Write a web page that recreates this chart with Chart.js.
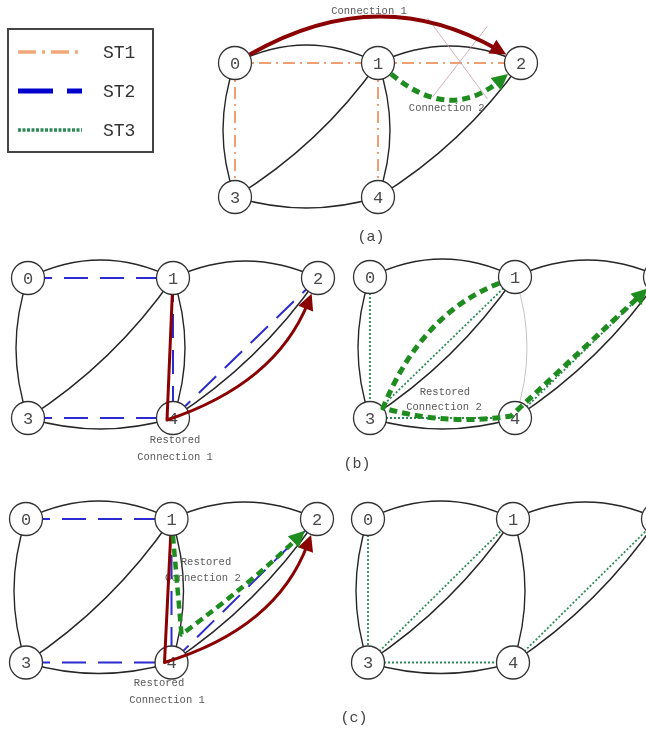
<!DOCTYPE html>
<html>
<head>
<meta charset="utf-8">
<title>Spanning tree restoration</title>
<script src="https://cdn.jsdelivr.net/npm/chart.js@4.4.1/dist/chart.umd.min.js"></script>
<style>
  html, body { margin: 0; padding: 0; background: #fff; overflow: hidden; width: 646px; height: 729px; }
  canvas { position: absolute; }
  .cap { position: absolute; font: 15px "Liberation Mono", monospace; color: #444; transform: translate(-50%, -50%); white-space: nowrap; }
</style>
</head>
<body>
<canvas id="ga"></canvas>
<canvas id="gbl"></canvas>
<canvas id="gbr"></canvas>
<canvas id="gcl"></canvas>
<canvas id="gcr"></canvas>
<div class="cap" style="left:371px;top:237px">(a)</div>
<div class="cap" style="left:357px;top:464px">(b)</div>
<div class="cap" style="left:354px;top:718px">(c)</div>
<script>
// ---- data ----
const nodeNames = ["0", "1", "2", "3", "4"];
const nodeCol = [0, 1, 2, 0, 1];
const nodeRow = [0, 0, 0, 1, 1];
const links = [[0, 1], [1, 2], [0, 3], [1, 3], [3, 4], [1, 4], [4, 2]];
const treeNames = ["ST1", "ST2", "ST3"];
const st1Links = [[0, 1], [1, 2], [0, 3], [1, 4]];
const st2Links = [[0, 1], [3, 4], [1, 4], [4, 2]];
const st3Links = [[0, 3], [3, 1], [3, 4], [4, 2]];
const connection1 = [0, 2];
const connection2 = [1, 2];
const restored1 = [1, 4, 2];
const restored2b = [1, 3, 4, 2];
const restored2c = [1, 4, 2];
const failedLinkA = [1, 2];
const failedLinkB = [1, 4];

// ---- styles ----
const RED = "#8b0000";
const GREEN = "#1e8c1e";
const R = 17;
const linkSag = [18, 17, -12, 10, -11, 12, -10];
const treeStyle = {
  ST1: { color: "#f0a070", width: 2, dash: [12, 5, 2, 5] },
  ST2: { color: "#2b2bd0", width: 2, dash: [24, 12] },
  ST3: { color: "#2e8b57", width: 1.8, dash: [2, 2] }
};
const legendStyle = [
  { color: "#f0a878", width: 3.5, dash: [18, 6, 3, 6] },
  { color: "#0000cd", width: 5, dash: [35, 14] },
  { color: "#2e8b57", width: 3.5, dash: [3, 1.5] }
];

// via: pixel nudges for the intermediate nodes a path passes through
const graphs = [
  {
    id: "ga", box: { x: 0, y: 0, w: 646, h: 232 }, origin: { x: 235, y: 63 }, unit: { x: 143, y: 134 },
    tree: "ST1", treeLinks: st1Links, cut: failedLinkA, legend: true,
    paths: [
      { nodes: connection1, sags: [41], color: RED, width: 4 },
      { nodes: connection2, sags: [-30], color: GREEN, width: 5, dash: [8, 5] }
    ],
    notes: [["Connection 1", 0.937, -0.388], ["Connection 2", 1.48, 0.336]]
  },
  {
    id: "gbl", box: { x: 0, y: 236, w: 342, h: 230 }, origin: { x: 28, y: 278 }, unit: { x: 145, y: 140 },
    tree: "ST2", treeLinks: st2Links,
    paths: [{ nodes: restored1, sags: [0, -24], color: RED, width: 3, via: [[-6, 2]] }],
    notes: [["Restored", 1.014, 1.157], ["Connection 1", 1.014, 1.279]]
  },
  {
    id: "gbr", box: { x: 342, y: 236, w: 340, h: 230 }, origin: { x: 370, y: 277 }, unit: { x: 145, y: 141 },
    tree: "ST3", treeLinks: st3Links, faded: failedLinkB,
    paths: [{ nodes: restored2b, sags: [-20, -7, 0], color: GREEN, width: 5, dash: [8, 5], via: [[13, -10], [-4, -2]] }],
    notes: [["Restored", 0.517, 0.816], ["Connection 2", 0.51, 0.925]]
  },
  {
    id: "gcl", box: { x: 0, y: 476, w: 342, h: 253 }, origin: { x: 26, y: 519 }, unit: { x: 145.5, y: 143.5 },
    tree: "ST2", treeLinks: st2Links,
    paths: [
      { nodes: restored1, sags: [0, -26], color: RED, width: 3, via: [[-7, 0]] },
      { nodes: restored2c, sags: [0, -3], color: GREEN, width: 4.5, dash: [8, 5], via: [[10, -28]] }
    ],
    notes: [["Restored", 1.237, 0.300], ["Connection 2", 1.216, 0.411], ["Restored", 0.914, 1.143], ["Connection 1", 0.969, 1.261]]
  },
  {
    id: "gcr", box: { x: 342, y: 476, w: 340, h: 253 }, origin: { x: 368, y: 519 }, unit: { x: 145, y: 143.5 },
    tree: "ST3", treeLinks: st3Links, paths: [], notes: []
  }
];

// ---- helpers ----
function ctrlPoint(a, b, sag) {
  const dx = b[0] - a[0], dy = b[1] - a[1];
  const L = Math.hypot(dx, dy) || 1;
  return [(a[0] + b[0]) / 2 + dy / L * 2 * sag, (a[1] + b[1]) / 2 - dx / L * 2 * sag];
}

function toward(a, b, d) {
  const dx = b[0] - a[0], dy = b[1] - a[1];
  const L = Math.hypot(dx, dy) || 1;
  return [a[0] + dx / L * d, a[1] + dy / L * d];
}

function sameLink(l, m) {
  return m && ((l[0] === m[0] && l[1] === m[1]) || (l[0] === m[1] && l[1] === m[0]));
}

function arrowHead(ctx, tip, from, color) {
  const dx = tip[0] - from[0], dy = tip[1] - from[1];
  const L = Math.hypot(dx, dy) || 1;
  const ux = dx / L, uy = dy / L, len = 16, half = 8;
  const bx = tip[0] - ux * len, by = tip[1] - uy * len;
  ctx.fillStyle = color;
  ctx.beginPath();
  ctx.moveTo(tip[0], tip[1]);
  ctx.lineTo(bx - uy * half, by + ux * half);
  ctx.lineTo(bx + uy * half, by - ux * half);
  ctx.closePath();
  ctx.fill();
}

function drawLegend(ctx) {
  ctx.save();
  ctx.strokeStyle = "#444";
  ctx.lineWidth = 2;
  ctx.strokeRect(8, 29, 145, 123);
  ctx.font = "18px 'Liberation Mono', monospace";
  ctx.textBaseline = "middle";
  ctx.fillStyle = "#333";
  const rows = [52, 91, 130];
  treeNames.forEach((name, i) => {
    const s = legendStyle[i];
    ctx.strokeStyle = s.color;
    ctx.lineWidth = s.width;
    ctx.setLineDash(s.dash);
    ctx.beginPath();
    ctx.moveTo(18, rows[i]);
    ctx.lineTo(82, rows[i]);
    ctx.stroke();
    ctx.setLineDash([]);
    ctx.fillText(name, 103, rows[i] + 1);
  });
  ctx.restore();
}

function graphPlugin(g) {
  const at = (chart, n, shift) => {
    const s = shift || [0, 0];
    return [chart.scales.x.getPixelForValue(nodeCol[n]) + s[0], chart.scales.y.getPixelForValue(nodeRow[n]) + s[1]];
  };

  function drawPath(chart, p) {
    const ctx = chart.ctx;
    const last = p.nodes.length - 1;
    const pts = p.nodes.map((n, i) => at(chart, n, i > 0 && i < last && p.via ? p.via[i - 1] : null));
    const ctrls = [];
    for (let i = 0; i < last; i++) ctrls.push(ctrlPoint(pts[i], pts[i + 1], p.sags[i]));
    const start = toward(pts[0], ctrls[0], R);
    const cl = ctrls[last - 1];
    const tip = toward(pts[last], cl, R);
    const lineEnd = toward(pts[last], cl, R + 10);

    ctx.save();
    ctx.strokeStyle = p.color;
    ctx.lineWidth = p.width;
    ctx.lineJoin = "round";
    ctx.setLineDash(p.dash || []);
    ctx.beginPath();
    ctx.moveTo(start[0], start[1]);
    for (let i = 0; i < last; i++) {
      const end = i === last - 1 ? lineEnd : pts[i + 1];
      ctx.quadraticCurveTo(ctrls[i][0], ctrls[i][1], end[0], end[1]);
    }
    ctx.stroke();
    ctx.setLineDash([]);
    arrowHead(ctx, tip, cl, p.color);
    ctx.restore();
  }

  return {
    id: "graph_" + g.id,
    beforeDatasetsDraw(chart) {
      const ctx = chart.ctx;
      ctx.save();
      links.forEach((l, i) => {
        const a = at(chart, l[0]), b = at(chart, l[1]);
        const c = ctrlPoint(a, b, linkSag[i]);
        const faded = sameLink(l, g.faded);
        ctx.strokeStyle = faded ? "#c4c4c4" : "#262626";
        ctx.lineWidth = faded ? 1 : 1.4;
        ctx.beginPath();
        ctx.moveTo(a[0], a[1]);
        ctx.quadraticCurveTo(c[0], c[1], b[0], b[1]);
        ctx.stroke();
      });
      ctx.restore();
    },
    afterDatasetsDraw(chart) {
      const ctx = chart.ctx;
      ctx.save();
      // failed link cross
      if (g.cut) {
        const a = at(chart, g.cut[0]), b = at(chart, g.cut[1]);
        const mx = (a[0] + b[0]) / 2 + 8, my = (a[1] + b[1]) / 2 - 3;
        ctx.strokeStyle = "rgba(200,150,170,0.75)";
        ctx.lineWidth = 1;
        ctx.beginPath();
        ctx.moveTo(mx - 30, my - 42); ctx.lineTo(mx + 30, my + 39);
        ctx.moveTo(mx + 30, my - 34); ctx.lineTo(mx - 25, my + 37);
        ctx.stroke();
      }
      // node labels
      ctx.font = "17px 'Liberation Mono', monospace";
      ctx.fillStyle = "#4a4a4a";
      ctx.textAlign = "center";
      ctx.textBaseline = "middle";
      nodeNames.forEach((name, n) => {
        const p = at(chart, n);
        ctx.fillText(name, p[0], p[1] + 1);
      });
      // notes
      ctx.font = "10.5px 'Liberation Mono', monospace";
      ctx.fillStyle = "#5a5a5a";
      g.notes.forEach(([text, cx, cy]) => {
        ctx.fillText(text, chart.scales.x.getPixelForValue(cx), chart.scales.y.getPixelForValue(cy));
      });
      ctx.restore();
      g.paths.forEach(p => drawPath(chart, p));
    },
    afterDraw(chart) {
      if (g.legend) drawLegend(chart.ctx);
    }
  };
}

// ---- charts ----
graphs.forEach(g => {
  const cv = document.getElementById(g.id);
  cv.width = g.box.w;
  cv.height = g.box.h;
  cv.style.left = g.box.x + "px";
  cv.style.top = g.box.y + "px";
  const ox = g.origin.x - g.box.x;
  const oy = g.origin.y - g.box.y;
  const ts = treeStyle[g.tree];

  const treeSets = g.treeLinks.map(l => ({
    label: g.tree,
    data: l.map(n => ({ x: nodeCol[n], y: nodeRow[n] })),
    showLine: true,
    borderColor: ts.color,
    borderWidth: ts.width,
    borderDash: ts.dash,
    pointRadius: 0,
    fill: false,
    order: 1
  }));

  new Chart(cv, {
    type: "scatter",
    data: {
      datasets: [
        {
          label: "nodes",
          data: nodeCol.map((c, i) => ({ x: c, y: nodeRow[i] })),
          pointRadius: 16.5,
          pointBackgroundColor: "#fff",
          pointBorderColor: "#333",
          pointBorderWidth: 1.3,
          clip: false,
          order: 0
        },
        ...treeSets
      ]
    },
    options: {
      responsive: false,
      animation: false,
      devicePixelRatio: 1,
      events: [],
      layout: { padding: 0, autoPadding: false },
      plugins: { legend: { display: false }, tooltip: { enabled: false } },
      scales: {
        x: { type: "linear", display: false, bounds: "data", min: -ox / g.unit.x, max: (g.box.w - ox) / g.unit.x },
        y: { type: "linear", display: false, bounds: "data", reverse: true, min: -oy / g.unit.y, max: (g.box.h - oy) / g.unit.y }
      }
    },
    plugins: [graphPlugin(g)]
  });
});
</script>
</body>
</html>
